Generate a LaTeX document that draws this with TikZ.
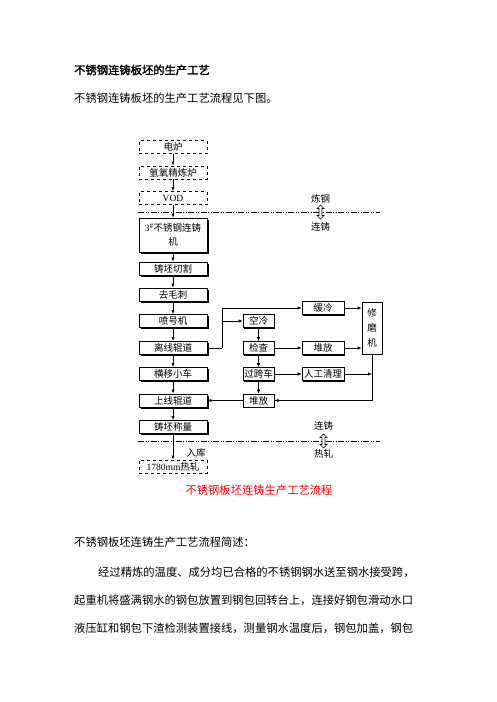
\documentclass[tikz,border=0pt]{standalone}
\usepackage{fontspec}
\setmainfont{Noto Sans CJK SC}
\newfontfamily\cjkbold[FakeBold=2]{Noto Sans CJK SC}
\newfontfamily\latserif{Liberation Serif}
\usetikzlibrary{arrows.meta,shadows,calc}
\tikzset{
  base/.style={draw=black,inner sep=0pt,font=\fontsize{9.5}{10}\selectfont,minimum height=13pt},
  dbox/.style={base,dashed,line width=0.8pt,minimum width=68pt},
  lbox/.style={base,line width=0.8pt,minimum width=68pt,fill=white,drop shadow={shadow xshift=1.5pt,shadow yshift=-1.5pt,opacity=1,fill=black}},
  sbox/.style={base,line width=0.6pt,fill=white,drop shadow={shadow xshift=1.3pt,shadow yshift=-1.3pt,opacity=1,fill=black}},
  arr/.style={-{Latex[length=4pt,width=3.2pt]},line width=0.6pt},
  ln/.style={line width=0.6pt},
  dd/.style={line width=0.6pt,dash pattern=on 6pt off 1.5pt on 1pt off 1.5pt on 1pt off 1.5pt},
  lbl/.style={inner sep=0pt,font=\fontsize{9.5}{10}\selectfont},
  para/.style={inner sep=0pt,anchor=west,font=\fontsize{11.3}{12}\selectfont}
}
\begin{document}
\begin{tikzpicture}[x=1pt,y=-1pt]
\fill[white] (0,0) rectangle (496,702);
\useasboundingbox (0,0) rectangle (496,702);

% header text
\node[para,font=\cjkbold\fontsize{11.3}{12}\selectfont] (title) at (74,70) {不锈钢连铸板坯的生产工艺};
\node[para] (intro) at (74,98) {不锈钢连铸板坯的生产工艺流程见下图。};

% left column
\node[dbox] (dl) at (173,147) {电炉};
\node[dbox] (ar) at (173,172.5) {氩氧精炼炉};
\node[dbox] (vod) at (173,198) {\latserif VOD};
\node[lbox,minimum height=34pt,align=center] (cc) at (173,235) {{\latserif 3}$^{\#}$不锈钢连铸\\[4pt]机};
\node[lbox] (cut) at (173,268.5) {铸坯切割};
\node[lbox] (deb) at (173,294.5) {去毛刺};
\node[lbox] (mark) at (173,321) {喷号机};
\node[lbox] (off) at (173,348) {离线辊道};
\node[lbox] (trans) at (173,374) {横移小车};
\node[lbox] (onl) at (173,400.5) {上线辊道};
\node[lbox] (weigh) at (173,427) {铸坯称量};
\node[dbox] (hot) at (173,466.5) {{\latserif 1780mm}热轧};

% right part
\node[sbox,minimum width=31pt] (air) at (258.5,321) {空冷};
\node[sbox,minimum width=31pt] (chk) at (258.5,348) {检查};
\node[sbox,minimum width=31pt] (cross) at (258.5,374) {过跨车};
\node[sbox,minimum width=31pt] (pileb) at (258.5,400.5) {堆放};
\node[sbox,minimum width=42pt] (slow) at (323,308) {缓冷};
\node[sbox,minimum width=42pt] (pilem) at (323,348) {堆放};
\node[sbox,minimum width=42pt] (clean) at (323,374) {人工清理};
\node[sbox,minimum width=20pt,minimum height=52pt,align=center] (grind) at (372,328) {修\\[5pt]磨\\[5pt]机};

% left column arrows
\draw[arr] (dl) -- (ar);
\draw[arr] (ar) -- (vod);
\draw[arr] (vod) -- (cc);
\draw[arr] (cc) -- (cut);
\draw[arr] (cut) -- (deb);
\draw[arr] (deb) -- (mark);
\draw[arr] (mark) -- (off);
\draw[arr] (off) -- (trans);
\draw[arr] (trans) -- (onl);
\draw[arr] (onl) -- (weigh);
\draw[arr] (weigh) -- (hot);

% branch
\coordinate (bj) at ($(off.east)+(15,0)$);
\draw[ln] (off.east) -- (bj);
\draw[arr] (bj) |- (slow.west);
\draw[arr] (bj |- air.west) -- (air.west);
\draw[arr] (air) -- (chk);
\draw[arr] (chk) -- (cross);
\draw[arr] (cross) -- (pileb);
\draw[arr] (chk) -- (pilem);
\draw[arr] (cross) -- (clean);
\draw[arr] (slow.east) -- (slow.east -| grind.west);
\draw[arr] (pilem.east) -- (pilem.east -| grind.west);
\draw[arr] (clean.east) -- (clean.east -| grind.south);
\draw[arr] (grind.south) |- (pileb.east);
\draw[arr] (pileb) -- (onl);

% dash-dot separators
\coordinate (s1a) at (138,212);
\coordinate (s1b) at (380,212);
\draw[dd] (s1a) -- (s1b);
\node[lbl] (t1) at (320.5,199) {炼钢};
\node[lbl] (t2) at (320.5,227) {连铸};
\draw[line width=0.6pt,fill=white] (320.5,205) -- (324,208.5) -- (322,208.5) -- (322,215.5) -- (324,215.5) -- (320.5,219) -- (317,215.5) -- (319,215.5) -- (319,208.5) -- (317,208.5) -- cycle;

\coordinate (s2a) at (138,441);
\coordinate (s2b) at (380,441);
\draw[dd] (s2a) -- (s2b);
\node[lbl] (t3) at (323.5,426) {连铸};
\node[lbl] (t4) at (323.5,454) {热轧};
\draw[line width=0.6pt,fill=white] (323.5,434) -- (327,437.5) -- (325,437.5) -- (325,444.5) -- (327,444.5) -- (323.5,448) -- (320,444.5) -- (322,444.5) -- (322,437.5) -- (320,437.5) -- cycle;

\node[lbl] (store) at (196,452.5) {入库};

% caption
\node[inner sep=0pt,text=red,font=\fontsize{11.3}{12}\selectfont] (cap) at (259,490) {不锈钢板坯连铸生产工艺流程};

% paragraph
\node[para] (p0) at (74,542) {不锈钢板坯连铸生产工艺流程简述：};
\node[para] (p1) at (98,572) {经过精炼的温度、成分均已合格的不锈钢钢水送至钢水接受跨，};
\node[para] (p2) at (74,600) {起重机将盛满钢水的钢包放置到钢包回转台上，连接好钢包滑动水口};
\node[para] (p3) at (74,628) {液压缸和钢包下渣检测装置接线，测量钢水温度后，钢包加盖，钢包};
\end{tikzpicture}
\end{document}
